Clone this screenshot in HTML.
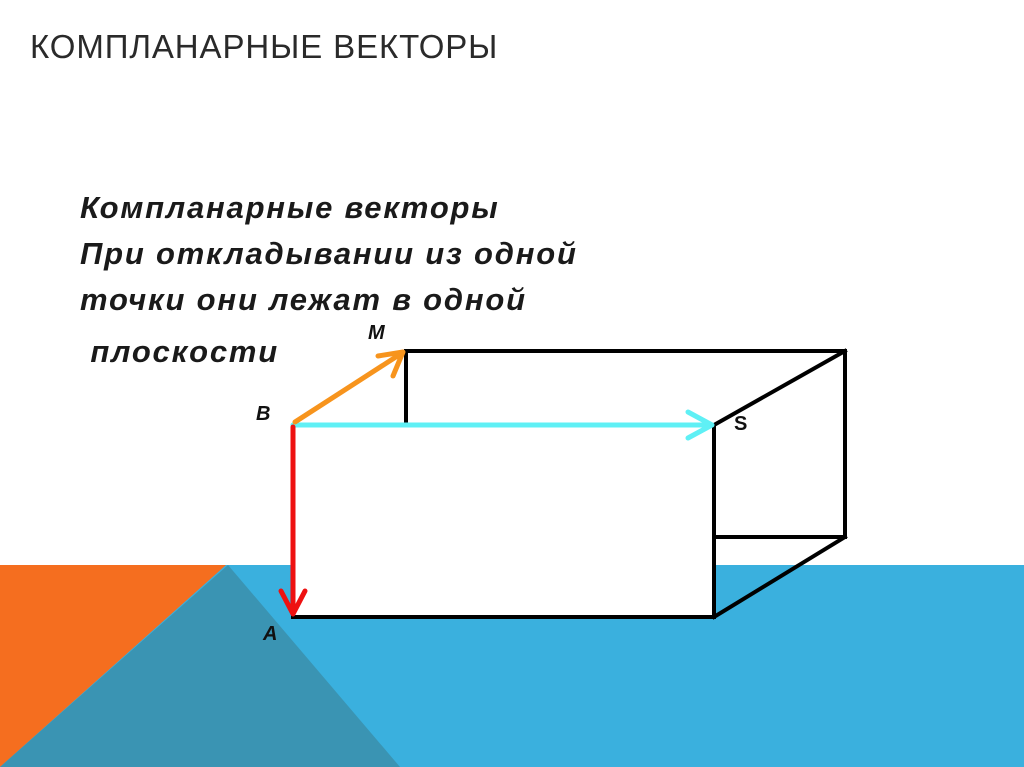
<!DOCTYPE html>
<html><head><meta charset="utf-8"><style>
body{margin:0;width:1024px;height:767px;overflow:hidden;background:#fff;position:relative;font-family:"Liberation Sans",Arial,sans-serif}
.t{position:absolute;left:30px;top:28px;font-size:33px;color:#2a2a2a;letter-spacing:0.9px}
.b{position:absolute;left:80px;font-size:31px;line-height:36px;font-weight:bold;font-style:italic;color:#1a1a1a;white-space:pre;letter-spacing:1.8px}
</style></head><body>
<svg width="1024" height="767" style="position:absolute;left:0;top:0">
<rect x="0" y="565" width="1024" height="202" fill="#3ab0de"/>
<polygon points="0,565 226,565 0,767" fill="#f56e1f"/>
<polygon points="228,565 400,767 0,767" fill="#3a94b3"/>
<rect x="293" y="425" width="421" height="192" fill="#fff"/>
<g stroke="#000" stroke-width="4" fill="none" stroke-linecap="square">
<line x1="406" y1="351" x2="845" y2="351"/>
<line x1="406" y1="351" x2="406" y2="425"/>
<line x1="845" y1="351" x2="845" y2="537"/>
<line x1="714" y1="537" x2="845" y2="537"/>
<line x1="714" y1="425" x2="845" y2="351"/>
<line x1="714" y1="617" x2="845" y2="537"/>
<line x1="714" y1="425" x2="714" y2="617"/>
<line x1="293" y1="617" x2="714" y2="617"/>
</g>
<g stroke-width="5" fill="none" stroke-linecap="round" stroke-linejoin="round">
<line x1="293" y1="425" x2="710" y2="425" stroke="#5ff0f5"/>
<polyline points="688,412 712,425 688,438" stroke="#5ff0f5"/>
<line x1="293" y1="427" x2="293" y2="613" stroke="#ee1111"/>
<polyline points="281,591 293,614 305,591" stroke="#ee1111"/>
<line x1="295" y1="422" x2="402" y2="353" stroke="#f7941d"/>
<polyline points="378,356 403,352 393,376" stroke="#f7941d"/>
</g>
<g font-family="Liberation Sans,Arial,sans-serif" font-weight="bold" font-style="italic" font-size="20" fill="#111">
<text x="368" y="339">M</text>
<text x="256" y="420">B</text>
<text x="263" y="640">A</text>
</g>
<text x="734" y="430" font-family="Liberation Sans,Arial,sans-serif" font-weight="bold" font-size="20" fill="#111">S</text>
</svg>
<div class="t">КОМПЛАНАРНЫЕ ВЕКТОРЫ</div>
<div class="b" style="top:190px">Компланарные векторы</div>
<div class="b" style="top:236px">При откладывании из одной</div>
<div class="b" style="top:282px">точки они лежат в одной</div>
<div class="b" style="top:334px"> плоскости</div>
</body></html>
